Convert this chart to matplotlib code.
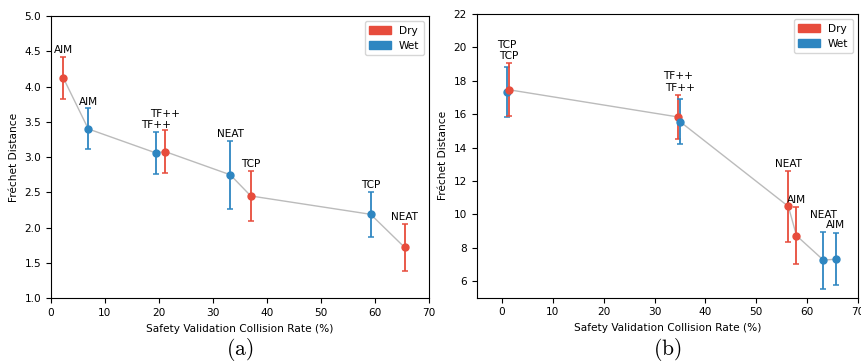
import matplotlib
matplotlib.use('Agg')
import matplotlib.pyplot as plt
import matplotlib.patches as mpatches

plt.rcParams['mathtext.fontset'] = 'cm'

RED = '#e74c3c'
BLUE = '#2e86c1'

# Panel (a)
a_names = ['AIM', 'AIM', 'TF++', 'TF++', 'NEAT', 'TCP', 'TCP', 'NEAT']
a_cond = ['Dry', 'Wet', 'Wet', 'Dry', 'Wet', 'Dry', 'Wet', 'Dry']
a_rate = [2.3, 6.9, 19.4, 21.1, 33.2, 37.0, 59.2, 65.5]
a_frechet = [4.12, 3.40, 3.06, 3.08, 2.75, 2.45, 2.19, 1.72]
a_err = [0.30, 0.29, 0.30, 0.30, 0.48, 0.35, 0.32, 0.33]

# Panel (b)
b_names = ['TCP', 'TCP', 'TF++', 'TF++', 'NEAT', 'AIM', 'NEAT', 'AIM']
b_cond = ['Wet', 'Dry', 'Dry', 'Wet', 'Dry', 'Dry', 'Wet', 'Wet']
b_rate = [1.0, 1.35, 34.6, 35.0, 56.3, 57.9, 63.2, 65.6]
b_frechet = [17.34, 17.46, 15.83, 15.55, 10.47, 8.72, 7.25, 7.31]
b_err = [1.50, 1.60, 1.32, 1.34, 2.13, 1.73, 1.70, 1.57]

# extra label lift (points) where labels would collide
a_lift = [0, 0, 0, 7, 0, 0, 0, 0]
b_lift = [10.5, 0, 8.5, 3.5, 0, 0, 7, 1]

FS = 7.6


def draw(ax, names, cond, rate, fr, err, lift):
    order = sorted(range(len(rate)), key=lambda i: rate[i])
    ax.plot([rate[i] for i in order], [fr[i] for i in order],
            color='#bbbbbb', lw=1.0, zorder=1)
    for i in range(len(rate)):
        c = RED if cond[i] == 'Dry' else BLUE
        ax.errorbar(rate[i], fr[i], yerr=err[i], fmt='o', color=c,
                    ms=5, capsize=2.5, elinewidth=1.3, capthick=1.1, zorder=3)
        ax.annotate(names[i], (rate[i], fr[i] + err[i]),
                    xytext=(0, 1.3 + lift[i]), textcoords='offset points',
                    ha='center', va='bottom', fontsize=FS)
    ax.set_xlabel('Safety Validation Collision Rate (%)', fontsize=FS)
    ax.set_ylabel('Fréchet Distance', fontsize=FS)
    ax.tick_params(labelsize=FS)
    handles = [mpatches.Patch(color=RED, label='Dry'),
               mpatches.Patch(color=BLUE, label='Wet')]
    ax.legend(handles=handles, loc='upper right', fontsize=FS)


fig = plt.figure(figsize=(8.62, 3.64), dpi=100)
ax1 = fig.add_axes([51 / 862, 65.7 / 364, 378 / 862, 282.3 / 364])
ax2 = fig.add_axes([476.7 / 862, 66.3 / 364, 381.3 / 862, 283.7 / 364])

draw(ax1, a_names, a_cond, a_rate, a_frechet, a_err, a_lift)
ax1.set_xlim(0, 70)
ax1.set_ylim(1.0, 5.0)

draw(ax2, b_names, b_cond, b_rate, b_frechet, b_err, b_lift)
ax2.set_xlim(-5, 70)
ax2.set_ylim(5, 22)
ax2.set_yticks([6, 8, 10, 12, 14, 16, 18, 20, 22])

# sub-figure captions
fig.text(0.5 * (51 + 429) / 862, 1 / 364, r'$\mathrm{(a)}$', ha='center', va='bottom', fontsize=15.5)
fig.text(0.5 * (476.7 + 858) / 862, 1 / 364, r'$\mathrm{(b)}$', ha='center', va='bottom', fontsize=15.5)

fig.savefig('out.png', dpi=100)
